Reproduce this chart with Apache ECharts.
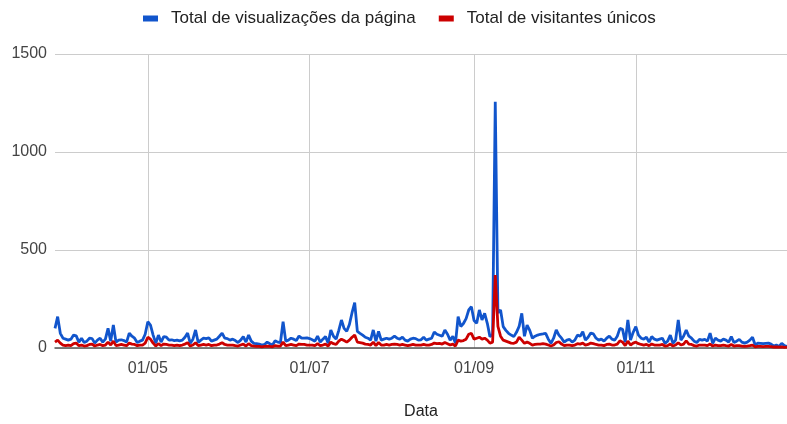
<!DOCTYPE html>
<html>
<head>
<meta charset="utf-8">
<script src="https://cdn.jsdelivr.net/npm/echarts@6/dist/echarts.min.js"></script>
<style>
  html, body { margin: 0; padding: 0; background: #fff; }
  #chart { width: 787px; height: 424px; }
</style>
</head>
<body>
<div id="chart"></div>
<script>
// daily series, starting 27/03
var startDate = [2023, 2, 27];
var labelDates = ['01/05', '01/07', '01/09', '01/11'];
var yTicks = [0, 500, 1000, 1500];

var pageViews = [
  100, 160, 75, 50, 45, 40, 45, 66, 62, 30,
  50, 28, 35, 50, 48, 25, 40, 50, 30, 45,
  100, 35, 117, 30, 40, 42, 38, 30, 76, 60,
  50, 28, 35, 40, 70, 134, 117, 66, 24, 66,
  30, 58, 55, 40, 42, 38, 40, 36, 40, 55,
  76, 24, 45, 92, 28, 40, 50, 48, 52, 35,
  40, 45, 60, 76, 50, 48, 40, 45, 38, 28,
  40, 58, 30, 66, 35, 24, 22, 20, 15, 18,
  30, 22, 15, 37, 30, 28, 134, 35, 40, 50,
  45, 38, 61, 50, 50, 52, 48, 42, 35, 61,
  30, 45, 58, 24, 92, 60, 45, 90, 143, 100,
  85, 120, 180, 232, 85, 75, 66, 55, 50, 40,
  92, 35, 85, 40, 45, 50, 45, 50, 60, 50,
  45, 55, 40, 35, 45, 50, 48, 40, 42, 55,
  40, 45, 50, 82, 70, 65, 60, 92, 70, 40,
  60, 24, 160, 110, 125, 150, 194, 211, 140, 126,
  194, 143, 177, 126, 58, 70, 1256, 180, 194, 109,
  90, 75, 66, 58, 80, 110, 177, 60, 117, 90,
  50, 60, 66, 70, 72, 75, 45, 24, 50, 92,
  66, 50, 30, 40, 44, 30, 40, 66, 60, 83,
  40, 55, 76, 72, 50, 40, 45, 35, 50, 61,
  45, 40, 60, 100, 95, 30, 143, 40, 80, 109,
  66, 50, 45, 55, 30, 58, 45, 40, 45, 50,
  24, 35, 66, 24, 40, 143, 40, 60, 92, 60,
  50, 35, 28, 44, 40, 44, 35, 76, 24, 50,
  40, 35, 45, 40, 30, 58, 28, 35, 44, 30,
  25, 30, 40, 55, 15, 25, 24, 22, 24, 25,
  20, 10, 15, 8, 24, 12, 8
];

var uniqueVisitors = [
  30, 40, 25, 15, 12, 15, 12, 22, 25, 12,
  15, 10, 12, 18, 20, 10, 15, 18, 12, 15,
  30, 15, 35, 12, 15, 18, 15, 12, 25, 20,
  18, 12, 15, 15, 25, 55, 45, 25, 10, 22,
  12, 20, 18, 15, 15, 12, 15, 12, 15, 20,
  27, 10, 15, 27, 12, 15, 18, 15, 18, 12,
  15, 15, 20, 27, 18, 15, 15, 15, 12, 10,
  15, 20, 10, 22, 12, 10, 8, 8, 6, 8,
  10, 8, 6, 12, 10, 10, 30, 12, 15, 18,
  15, 12, 20, 18, 18, 15, 15, 15, 12, 22,
  12, 15, 20, 10, 30, 22, 18, 35, 45, 38,
  30, 40, 55, 66, 30, 28, 25, 20, 18, 15,
  30, 12, 28, 15, 15, 18, 15, 18, 20, 18,
  15, 18, 15, 12, 15, 18, 15, 15, 15, 18,
  15, 15, 18, 25, 22, 24, 20, 28, 22, 15,
  20, 10, 40, 35, 38, 45, 70, 75, 45, 50,
  55, 45, 50, 40, 25, 30, 372, 110, 60, 40,
  35, 30, 25, 24, 30, 55, 40, 24, 30, 24,
  15, 18, 20, 20, 22, 20, 15, 10, 15, 28,
  32, 20, 12, 15, 15, 12, 15, 22, 20, 25,
  15, 18, 25, 22, 18, 15, 15, 12, 18, 20,
  15, 15, 20, 37, 30, 12, 35, 15, 25, 30,
  22, 18, 15, 18, 12, 20, 15, 15, 15, 18,
  10, 12, 20, 10, 15, 27, 15, 20, 37, 20,
  18, 12, 10, 15, 15, 15, 12, 20, 10, 15,
  12, 12, 15, 12, 10, 18, 10, 12, 12, 10,
  8, 10, 12, 15, 6, 8, 8, 7, 8, 8,
  7, 5, 6, 4, 6, 3, 4
];

function pad(n) { return n < 10 ? '0' + n : '' + n; }

var dates = [];
for (var i = 0; i < pageViews.length; i++) {
  var d = new Date(startDate[0], startDate[1], startDate[2] + i);
  dates.push(pad(d.getDate()) + '/' + pad(d.getMonth() + 1));
}

function isLabelDate(idx, val) {
  return labelDates.indexOf(val) >= 0;
}

var font = '"Liberation Sans", Arial, sans-serif';

var chart = echarts.init(document.getElementById('chart'));
chart.setOption({
  animation: false,
  textStyle: { fontFamily: font },
  legend: {
    top: 10,
    left: 143,
    padding: 0,
    itemWidth: 15,
    itemHeight: 6,
    itemGap: 23,
    icon: 'rect',
    textStyle: { fontSize: 17, color: '#222', padding: [0, 0, 0, 8] },
    data: ['Total de visualizações da página', 'Total de visitantes únicos']
  },
  grid: { left: 55, right: 0, top: 54, bottom: 76, containLabel: false, outerBoundsMode: 'none' },
  xAxis: {
    type: 'category',
    data: dates,
    boundaryGap: false,
    name: 'Data',
    nameLocation: 'middle',
    nameGap: 56,
    nameTextStyle: { fontSize: 16, color: '#222' },
    axisLine: { lineStyle: { color: '#555', width: 1.5 } },
    axisTick: { show: false },
    axisLabel: { interval: isLabelDate, fontSize: 16, color: '#444', margin: 13 },
    splitLine: { show: true, interval: isLabelDate, lineStyle: { color: '#ccc', width: 1 } }
  },
  yAxis: {
    type: 'value',
    min: yTicks[0],
    max: yTicks[yTicks.length - 1],
    interval: 500,
    axisLine: { show: false },
    axisTick: { show: false },
    axisLabel: { fontSize: 16, color: '#444', margin: 8, formatter: function (v) { return String(v); } },
    splitLine: { lineStyle: { color: '#ccc', width: 1 } }
  },
  series: [
    {
      name: 'Total de visualizações da página',
      type: 'line',
      data: pageViews,
      showSymbol: false,
      itemStyle: { color: '#1155cc' },
      lineStyle: { color: '#1155cc', width: 2.8 }
    },
    {
      name: 'Total de visitantes únicos',
      type: 'line',
      data: uniqueVisitors,
      showSymbol: false,
      itemStyle: { color: '#cc0000' },
      lineStyle: { color: '#cc0000', width: 2.8 }
    }
  ]
});
</script>
</body>
</html>
